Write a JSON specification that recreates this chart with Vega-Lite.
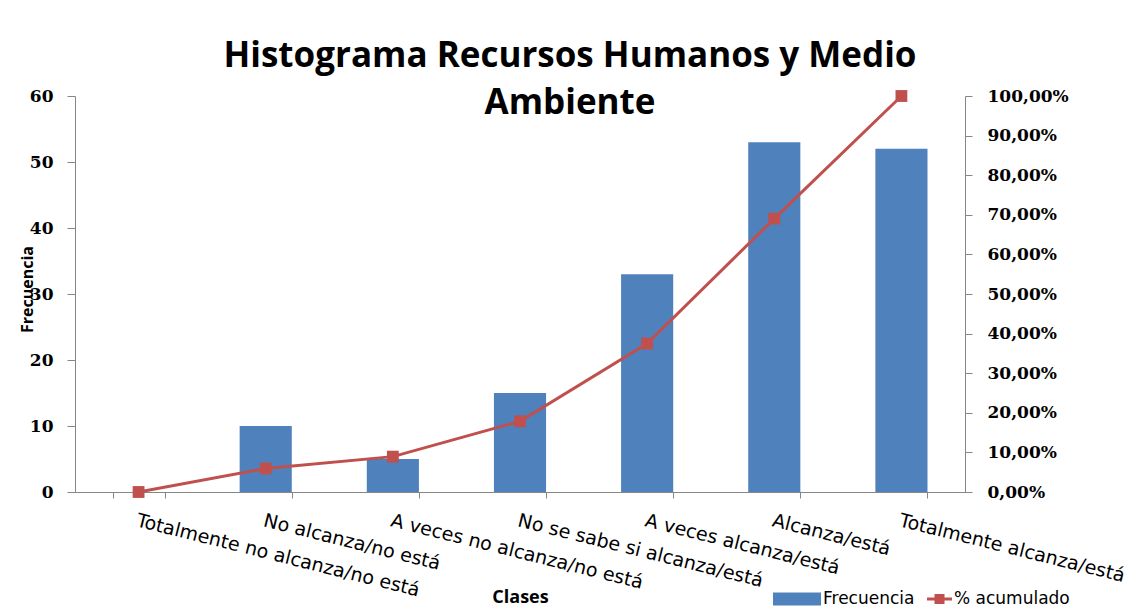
{
  "$schema": "https://vega.github.io/schema/vega-lite/v6.json",
  "width": 890,
  "height": 396,
  "autosize": {"type": "none"},
  "padding": {"left": 75, "top": 96, "right": 169, "bottom": 119},
  "background": "white",
  "config": {
    "view": {"stroke": null},
    "locale": {"number": {"decimal": ",", "thousands": ".", "grouping": [3], "currency": ["", " €"]}},
    "axis": {"grid": false, "domainColor": "#868686", "tickColor": "#868686", "labelColor": "#000000", "titleColor": "#000000"}
  },
  "title": {
    "text": ["Histograma Recursos Humanos y Medio", "Ambiente"],
    "font": "Open Sans",
    "fontSize": 35,
    "fontWeight": "bold",
    "color": "#000000",
    "anchor": "middle",
    "frame": "group",
    "dx": 50,
    "lineHeight": 47,
    "baseline": "alphabetic",
    "offset": -62
  },
  "data": {
    "values": [
      {"clase": "Totalmente no alcanza/no está", "frecuencia": 0, "acumulado": 0},
      {"clase": "No alcanza/no está", "frecuencia": 10, "acumulado": 0.0595},
      {"clase": "A veces no alcanza/no está", "frecuencia": 5, "acumulado": 0.0893},
      {"clase": "No se sabe si alcanza/está", "frecuencia": 15, "acumulado": 0.1786},
      {"clase": "A veces alcanza/está", "frecuencia": 33, "acumulado": 0.375},
      {"clase": "Alcanza/está", "frecuencia": 53, "acumulado": 0.6905},
      {"clase": "Totalmente alcanza/está", "frecuencia": 52, "acumulado": 1.0}
    ]
  },
  "encoding": {
    "x": {
      "field": "clase",
      "type": "nominal",
      "sort": null,
      "scale": {"paddingInner": 0.59, "paddingOuter": 0.295},
      "axis": {
        "title": "Clases",
        "titleFont": "Open Sans",
        "titleFontSize": 18,
        "titleFontWeight": "bold",
        "titleX": 445,
        "titleY": 105,
        "titleAlign": "center",
        "titleBaseline": "middle",
        "labelAngle": 14,
        "labelAlign": "left",
        "labelBaseline": "top",
        "labelFont": "DejaVu Sans",
        "labelFontSize": 19,
        "labelPadding": 13,
        "labelLimit": 500,
        "labelOverlap": false,
        "labelFlush": false,
        "tickBand": "extent",
        "tickSize": 6
      }
    }
  },
  "layer": [
    {
      "mark": {"type": "bar"},
      "encoding": {
        "y": {
          "field": "frecuencia",
          "type": "quantitative",
          "scale": {"domain": [0, 60]},
          "axis": {
            "orient": "left",
            "values": [0, 10, 20, 30, 40, 50, 60],
            "title": "Frecuencia",
            "titleFont": "Open Sans",
            "titleFontSize": 16,
            "titleFontWeight": "bold",
            "titleAngle": -90,
            "titleX": -48,
            "titleY": 193,
            "titleAlign": "center",
            "titleBaseline": "middle",
            "labelFont": "DejaVu Serif",
            "labelFontSize": 17,
            "labelFontWeight": "bold",
            "tickSize": 8,
            "labelPadding": 14
          }
        },
        "color": {
          "datum": "Frecuencia",
          "type": "nominal",
          "scale": {"domain": ["Frecuencia", "% acumulado"], "range": ["#4F81BD", "#C0504D"]},
          "legend": {
            "orient": "none",
            "legendX": 726,
            "legendY": 493,
            "direction": "horizontal",
            "title": null,
            "padding": 0,
            "symbolSize": 400,
            "labelOffset": 2,
            "columnPadding": 12,
            "labelFont": "DejaVu Sans",
            "labelFontSize": 17,
            "labelColor": "#000000",
            "encode": {
              "symbols": {
                "update": {
                  "shape": {"signal": "datum.value === 'Frecuencia' ? 'M-3.8,-0.65H1V0.65H-3.8Z' : 'M-1.5,-0.15H1V0.15H-1.5Z M-0.75,-0.5H0.25V0.5H-0.75Z'"},
                  "fill": {"signal": "datum.value === 'Frecuencia' ? '#4F81BD' : '#C0504D'"},
                  "stroke": {"value": "transparent"},
                  "strokeWidth": {"value": 0},
                  "opacity": {"value": 1},
                  "fillOpacity": {"value": 1}
                }
              }
            }
          }
        }
      }
    },
    {
      "mark": {
        "type": "line",
        "strokeWidth": 3,
        "point": {"shape": "square", "size": 140, "filled": true, "opacity": 1}
      },
      "encoding": {
        "y": {
          "field": "acumulado",
          "type": "quantitative",
          "scale": {"domain": [0, 1]},
          "axis": {
            "orient": "right",
            "values": [0, 0.1, 0.2, 0.3, 0.4, 0.5, 0.6, 0.7, 0.8, 0.9, 1],
            "format": ".2%",
            "title": null,
            "labelFont": "DejaVu Serif",
            "labelFontSize": 17,
            "labelFontWeight": "bold",
            "tickSize": 7,
            "labelPadding": 15
          }
        },
        "color": {"datum": "% acumulado", "type": "nominal"}
      }
    }
  ],
  "resolve": {"scale": {"y": "independent"}}
}
